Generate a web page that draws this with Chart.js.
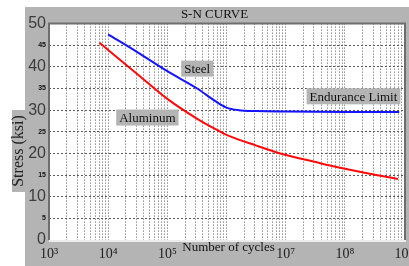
<!DOCTYPE html>
<html>
<head>
<meta charset="utf-8">
<script src="https://cdn.jsdelivr.net/npm/chart.js@4/dist/chart.umd.min.js"></script>
<style>
  html, body { margin: 0; padding: 0; background: #fff; }
  #wrap { width: 409px; height: 266px; }
</style>
</head>
<body>
<div id="wrap"><canvas id="snChart" width="409" height="266"></canvas></div>
<script>
// S-N curve values (cycles, stress in ksi)
const steelCycles = [1e4, 3.2e4, 1e5, 3.2e5, 6.3e5, 1e6, 1.6e6, 3.2e6, 1e7, 1e8, 8.3e8];
const steelStress = [47.5, 43.3, 39.0, 35.0, 32.2, 30.6, 30.0, 29.8, 29.7, 29.6, 29.6];

const aluminumCycles = [7.1e3, 1e4, 3.2e4, 1e5, 3.2e5, 7.2e5, 1e6, 3.2e6, 8.1e6, 3.2e7, 7.6e7, 3.2e8, 7.9e8];
const aluminumStress = [45.6, 43.9, 38.2, 32.6, 28.0, 25.3, 24.3, 21.8, 20.0, 18.0, 16.8, 15.1, 14.1];

// Axis ticks
const xDecades = [3, 4, 5, 6, 7, 8, 9];
const xTickLabels = ['10\u00B3', '10\u2074', '10\u2075', '', '10\u2077', '10\u2078', '10\u2079'];
const yTicks = [0, 5, 10, 15, 20, 25, 30, 35, 40, 45, 50];

// Text labels inside the plot, anchored in data space
const curveNotes = [
  { text: 'Steel', cycles: 3.2e5, stress: 39.6 },
  { text: 'Aluminum', cycles: 4.6e4, stress: 28.3 },
  { text: 'Endurance Limit', cycles: 1.4e8, stress: 33.2 },
];

const PANEL_GRAY = '#b4b4b4';
const SERIF = '"Liberation Serif", "Times New Roman", serif';
const SANS = '"Liberation Sans", Arial, sans-serif';

const toPoints = (xs, ys) => xs.map((x, i) => ({ x, y: ys[i] }));
const isMajorY = ctx => !!ctx.tick && ctx.tick.value % 10 === 0;

// background panel, frame and text notes
const panelPlugin = {
  id: 'panel',
  beforeDraw(chart) {
    const { ctx, chartArea: a } = chart;
    ctx.save();
    ctx.fillStyle = PANEL_GRAY;
    ctx.fillRect(25, 7, chart.width - 25, chart.height - 7);
    ctx.fillRect(12, 110, 13, 82);
    ctx.fillStyle = '#fff';
    ctx.fillRect(a.left, a.top, a.right - a.left, a.bottom - a.top);
    ctx.restore();
  },
  afterDraw(chart) {
    const { ctx, chartArea: a, scales } = chart;
    ctx.save();
    // frame
    ctx.strokeStyle = '#6e6e6e';
    ctx.lineWidth = 2;
    ctx.beginPath();
    ctx.moveTo(a.left, a.bottom);
    ctx.lineTo(a.left, a.top);
    ctx.lineTo(a.right + 1, a.top);
    ctx.lineTo(a.right + 1, a.bottom);
    ctx.stroke();
    ctx.strokeStyle = '#ececec';
    ctx.beginPath();
    ctx.moveTo(a.left, a.bottom + 1);
    ctx.lineTo(a.right + 2, a.bottom + 1);
    ctx.stroke();

    // y axis title
    ctx.fillStyle = '#222';
    ctx.font = '16px ' + SERIF;
    ctx.textAlign = 'center';
    ctx.textBaseline = 'middle';
    ctx.translate(19, 151);
    ctx.rotate(-Math.PI / 2);
    ctx.fillText('Stress (ksi)', 0, 0);
    ctx.setTransform(1, 0, 0, 1, 0, 0);

    // x axis title, sits where the 10^6 label would be
    ctx.font = '13px ' + SERIF;
    ctx.fillStyle = '#111';
    ctx.fillText('Number of cycles', scales.x.getPixelForValue(1e6) + 2, 248);

    // curve notes
    curveNotes.forEach(n => {
      const px = scales.x.getPixelForValue(n.cycles);
      const py = scales.y.getPixelForValue(n.stress);
      const w = ctx.measureText(n.text).width + 6;
      ctx.fillStyle = PANEL_GRAY;
      ctx.fillRect(px - w / 2, py - 8, w, 16);
      ctx.fillStyle = '#111';
      ctx.fillText(n.text, px, py + 1);
    });
    ctx.restore();
  }
};

const gridStyle = {
  color: '#5a5a5a',
  lineWidth: 1,
  drawTicks: false,
};

new Chart(document.getElementById('snChart'), {
  type: 'line',
  data: {
    datasets: [
      {
        label: 'Steel',
        data: toPoints(steelCycles, steelStress),
        borderColor: '#1414ff',
        borderWidth: 2,
        pointRadius: 0,
        cubicInterpolationMode: 'monotone',
      },
      {
        label: 'Aluminum',
        data: toPoints(aluminumCycles, aluminumStress),
        borderColor: '#ff0a0a',
        borderWidth: 2,
        pointRadius: 0,
        cubicInterpolationMode: 'monotone',
      },
    ],
  },
  options: {
    responsive: false,
    animation: false,
    layout: { padding: { top: 7, left: 25, right: 5, bottom: 0 } },
    plugins: {
      legend: { display: false },
      tooltip: { enabled: false },
      title: {
        display: true,
        text: 'S-N CURVE',
        color: '#111',
        font: { family: SERIF, size: 13, weight: 'normal' },
        padding: { top: 0, bottom: 1 },
      },
    },
    scales: {
      x: {
        type: 'logarithmic',
        min: Math.pow(10, xDecades[0]),
        max: Math.pow(10, xDecades[xDecades.length - 1]),
        afterBuildTicks: scale => {
          const ticks = [];
          xDecades.forEach((d, i) => {
            if (i === xDecades.length - 1) {
              ticks.push({ value: Math.pow(10, d) });
              return;
            }
            for (let k = 1; k <= 9; k++) ticks.push({ value: k * Math.pow(10, d) });
          });
          scale.ticks = ticks;
        },
        afterFit: scale => {
          scale.height = 26;
          scale.paddingLeft = 0;
          scale.paddingRight = 0;
        },
        grid: gridStyle,
        border: { display: false, dash: [1, 2] },
        ticks: {
          autoSkip: false,
          maxRotation: 0,
          padding: 6,
          color: '#222',
          font: { family: SERIF, size: 14 },
          callback: value => {
            const i = xDecades.findIndex(d => Math.abs(Math.pow(10, d) - value) < 1e-6 * value);
            return i >= 0 ? xTickLabels[i] : '';
          },
        },
      },
      y: {
        min: yTicks[0],
        max: yTicks[yTicks.length - 1],
        afterBuildTicks: scale => { scale.ticks = yTicks.map(v => ({ value: v })); },
        afterFit: scale => {
          scale.width = 24;
          scale.paddingTop = 0;
          scale.paddingBottom = 0;
        },
        grid: gridStyle,
        border: { display: false, dash: [2, 2] },
        ticks: {
          autoSkip: false,
          padding: 3,
          color: ctx => (isMajorY(ctx) ? '#3c3c3c' : '#111'),
          font: ctx => (isMajorY(ctx)
            ? { family: SANS, size: 16 }
            : { family: SANS, size: 7, weight: 'bold' }),
        },
      },
    },
  },
  plugins: [panelPlugin],
});
</script>
</body>
</html>
